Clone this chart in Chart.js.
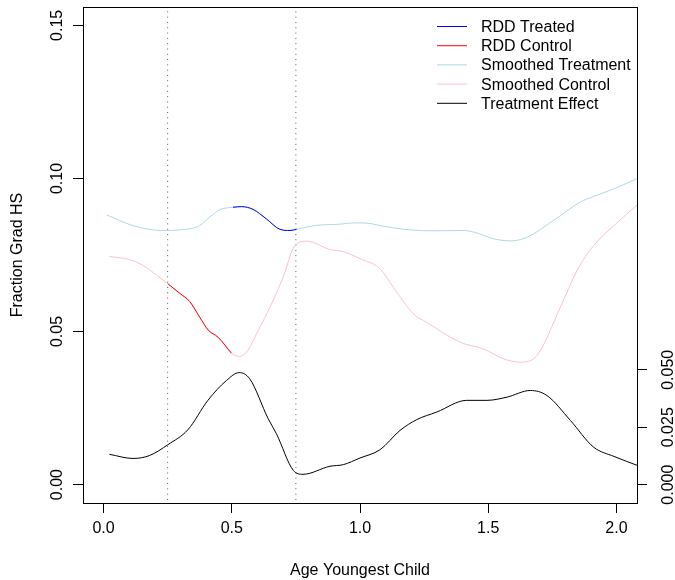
<!DOCTYPE html>
<html>
<head>
<meta charset="utf-8">
<script src="https://cdn.jsdelivr.net/npm/chart.js@4.4.1/dist/chart.umd.min.js"></script>
<style>
  html, body { margin: 0; padding: 0; background: #fff; }
  canvas { display: block; }
</style>
</head>
<body>
<canvas id="rdd" width="675" height="580"></canvas>
<script>
// values
const smoothTreatAge = [0.013, 0.115, 0.232, 0.297, 0.375, 0.414, 0.453, 0.505, 0.538, 0.583, 0.635, 0.6875, 0.727, 0.753, 0.831, 0.909, 0.987, 1.039, 1.078, 1.195, 1.30, 1.404, 1.443, 1.521, 1.586, 1.651, 1.755, 1.859, 1.911, 1.99, 2.09];
const smoothTreatVal = [0.0881, 0.0846, 0.0830, 0.0832, 0.0846, 0.0874, 0.0898, 0.0906, 0.0908, 0.0899, 0.0868, 0.0834, 0.0830, 0.0834, 0.0847, 0.0850, 0.0855, 0.0853, 0.0846, 0.0832, 0.0829, 0.0830, 0.0825, 0.0803, 0.0796, 0.0808, 0.0863, 0.0923, 0.0941, 0.0966, 0.1003];

const smoothCtrlAge = [0.023, 0.102, 0.154, 0.206, 0.251, 0.297, 0.336, 0.375, 0.408, 0.447, 0.499, 0.529, 0.557, 0.603, 0.655, 0.700, 0.746, 0.792, 0.883, 0.935, 1.0, 1.078, 1.130, 1.208, 1.260, 1.391, 1.482, 1.560, 1.625, 1.690, 1.781, 1.846, 1.911, 1.99, 2.09];
const smoothCtrlVal = [0.0745, 0.0735, 0.0716, 0.0685, 0.0656, 0.0625, 0.0598, 0.0547, 0.0505, 0.0481, 0.0429, 0.0419, 0.0432, 0.0503, 0.0590, 0.0677, 0.0781, 0.0795, 0.0768, 0.0761, 0.0738, 0.0705, 0.0645, 0.0558, 0.0530, 0.0465, 0.0443, 0.0411, 0.0400, 0.0422, 0.0579, 0.0699, 0.0781, 0.0846, 0.0920];

const rddTreatAge = [0.505, 0.538, 0.583, 0.635, 0.6875, 0.727, 0.753];
const rddTreatVal = [0.0906, 0.0908, 0.0899, 0.0868, 0.0834, 0.0830, 0.0834];

const rddCtrlAge = [0.251, 0.297, 0.336, 0.375, 0.408, 0.447, 0.499];
const rddCtrlVal = [0.0656, 0.0625, 0.0598, 0.0547, 0.0505, 0.0481, 0.0429];

const effectAge = [0.023, 0.115, 0.18, 0.251, 0.329, 0.407, 0.479, 0.529, 0.570, 0.642, 0.674, 0.740, 0.778, 0.883, 0.935, 1.0, 1.078, 1.156, 1.221, 1.299, 1.416, 1.495, 1.573, 1.664, 1.729, 1.820, 1.911, 1.99, 2.09];
const effectVal = [0.0132, 0.0114, 0.0127, 0.0174, 0.0239, 0.0367, 0.0453, 0.0488, 0.0461, 0.0287, 0.0222, 0.0062, 0.0045, 0.0080, 0.0087, 0.0116, 0.0152, 0.0236, 0.0283, 0.0316, 0.0367, 0.0367, 0.0381, 0.0410, 0.0388, 0.0280, 0.0163, 0.0123, 0.0080];

const cutoffs = [0.25, 0.75];
const ageTicks = [0, 0.5, 1, 1.5, 2];
const gradTicks = [0, 0.05, 0.10, 0.15];
const effectTicks = [0, 0.025, 0.05];

const font = { family: '"Liberation Sans", Arial, Helvetica, sans-serif', size: 16 };
const zip = (xs, ys) => xs.map((x, i) => ({ x, y: ys[i] }));

const curve = (label, xs, ys, color, axis) => ({
    label,
    data: zip(xs, ys),
    borderColor: color,
    borderWidth: 1,
    pointRadius: 0,
    cubicInterpolationMode: 'monotone',
    yAxisID: axis
});

const cutoffLines = cutoffs.map(c => ({
    label: 'cutoff',
    data: [{ x: c, y: -0.005 }, { x: c, y: 0.155 }],
    borderColor: '#5a5a5a',
    borderWidth: 1,
    borderDash: [1, 4.3],
    pointRadius: 0,
    yAxisID: 'y'
}));

const setTicks = list => scale => { scale.ticks = list.map(v => ({ value: v })); };

const tickGrid = { display: true, drawOnChartArea: false, drawTicks: true, tickLength: 10, color: '#000', lineWidth: 1 };

// box, rotated y labels (R style) and the legend
const frame = {
    id: 'frame',
    afterDraw(chart) {
        const { ctx, chartArea: a, scales } = chart;
        ctx.save();
        ctx.strokeStyle = '#000';
        ctx.lineWidth = 1;
        ctx.strokeRect(a.left + 0.5, a.top + 0.5, a.right - a.left, a.bottom - a.top);

        ctx.font = `${font.size}px ${font.family}`;
        ctx.fillStyle = '#000';
        const side = (scale, x, digits) => scale.ticks.forEach(t => {
            ctx.save();
            ctx.translate(x, scale.getPixelForValue(t.value));
            ctx.rotate(-Math.PI / 2);
            ctx.textAlign = 'center';
            ctx.textBaseline = 'alphabetic';
            ctx.fillText(t.value.toFixed(digits), 0, 0);
            ctx.restore();
        });
        side(scales.y, a.left - 21, 2);
        side(scales.y2, a.right + 36, 3);

        chart.data.datasets.slice(0, 5).forEach((d, i) => {
            const y = a.top + 19.5 + i * 19.2;
            ctx.strokeStyle = d.borderColor;
            ctx.beginPath();
            ctx.moveTo(437, y);
            ctx.lineTo(467, y);
            ctx.stroke();
            ctx.textAlign = 'left';
            ctx.textBaseline = 'middle';
            ctx.fillText(d.label, 481, y + 1);
        });
        ctx.restore();
    }
};

new Chart(document.getElementById('rdd'), {
    type: 'line',
    data: {
        datasets: [
            curve('RDD Treated', rddTreatAge, rddTreatVal, '#0000ff', 'y'),
            curve('RDD Control', rddCtrlAge, rddCtrlVal, '#ff0000', 'y'),
            curve('Smoothed Treatment', smoothTreatAge, smoothTreatVal, '#add8e6', 'y'),
            curve('Smoothed Control', smoothCtrlAge, smoothCtrlVal, '#ffc0cb', 'y'),
            curve('Treatment Effect', effectAge, effectVal, '#000000', 'y2'),
            ...cutoffLines
        ]
    },
    options: {
        responsive: false,
        animation: false,
        devicePixelRatio: 1,
        layout: { padding: { top: 7, left: 0, right: 0, bottom: 0 } },
        plugins: { legend: { display: false }, tooltip: { enabled: false } },
        scales: {
            x: {
                type: 'linear',
                min: -0.08,
                max: 2.08,
                afterBuildTicks: setTicks(ageTicks),
                afterFit: s => { s.height = 77; },
                grid: tickGrid,
                border: { display: false },
                ticks: { font, color: '#000', padding: 6, maxRotation: 0, callback: v => v.toFixed(1) },
                title: { display: true, text: 'Age Youngest Child', font, color: '#000', padding: { top: 0, bottom: 0 } }
            },
            y: {
                position: 'left',
                min: -0.006,
                max: 0.156,
                afterBuildTicks: setTicks(gradTicks),
                afterFit: s => { s.width = 83; },
                grid: tickGrid,
                border: { display: false },
                ticks: { display: false },
                title: { display: true, text: 'Fraction Grad HS', font, color: '#000', padding: { top: 7.5, bottom: 0 } }
            },
            y2: {
                position: 'right',
                min: -0.008,
                max: 0.208,
                afterBuildTicks: setTicks(effectTicks),
                afterFit: s => { s.width = 38; },
                grid: tickGrid,
                border: { display: false },
                ticks: { display: false }
            }
        }
    },
    plugins: [frame]
});
</script>
</body>
</html>
